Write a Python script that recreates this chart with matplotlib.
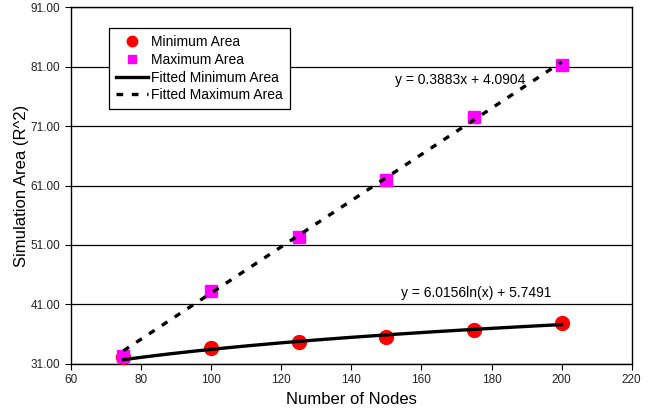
import numpy as np
import matplotlib
matplotlib.use("Agg")
import matplotlib.pyplot as plt

plt.rcParams['font.family'] = ['Liberation Sans', 'DejaVu Sans']

# data
nodes = [75, 100, 125, 150, 175, 200]
min_area = [32.2, 33.6, 34.7, 35.6, 36.7, 37.9]
max_area = [32.3, 43.2, 52.3, 62.0, 72.6, 81.2]

# trendline coefficients as printed on the chart
log_a, log_b = 6.0156, 5.7491
lin_a, lin_b = 0.3883, 4.0904

fig = plt.figure(figsize=(6.56, 4.15), dpi=100)
ax = fig.add_axes([0.108, 0.123, 0.855, 0.860])

xf = np.linspace(min(nodes), max(nodes), 200)
ax.plot(nodes, min_area, 'o', color='#ff0000', ms=10, zorder=3, label='Minimum Area')
ax.plot(nodes, max_area, 's', color='#ff00ff', ms=8, zorder=3, label='Maximum Area')
ax.plot(xf, log_a * np.log(xf) + log_b, '-', color='black', lw=2.4, zorder=4,
        label='Fitted Minimum Area')
ax.plot(xf, lin_a * xf + lin_b, '--', color='black', lw=2.4, dashes=(2.0, 2.6), zorder=4,
        label='Fitted Maximum Area')

ax.set_xlim(60, 220)
ax.set_ylim(31, 91)
ax.set_xticks(range(60, 221, 20))
ax.set_yticks(np.arange(31, 92, 10))
ax.set_yticklabels(['%.2f' % v for v in np.arange(31, 92, 10)])
ax.yaxis.grid(True, color='black', lw=0.9)
ax.set_axisbelow(True)
ax.tick_params(labelsize=8.5, colors='black', length=4, direction='out', labelcolor='#222222')
for s in ax.spines.values():
    s.set_linewidth(1.0)

ax.set_xlabel('Number of Nodes', fontsize=12, labelpad=4)
ax.set_ylabel('Simulation Area (R^2)', fontsize=12, labelpad=1)

ax.text(171, 78.8, 'y = 0.3883x + 4.0904', fontsize=10, ha='center', va='center')
ax.text(175.5, 43.0, 'y = 6.0156ln(x) + 5.7491', fontsize=10, ha='center', va='center')

leg = ax.legend(loc='upper left', bbox_to_anchor=(0.068, 0.941), fontsize=10,
                frameon=True, fancybox=False, edgecolor='black', framealpha=1,
                handlelength=2.3, borderpad=0.5, labelspacing=0.27, handletextpad=0.25,
                borderaxespad=0, markerscale=0.75)
leg.get_frame().set_linewidth(0.9)

fig.savefig('out.png', dpi=100)
